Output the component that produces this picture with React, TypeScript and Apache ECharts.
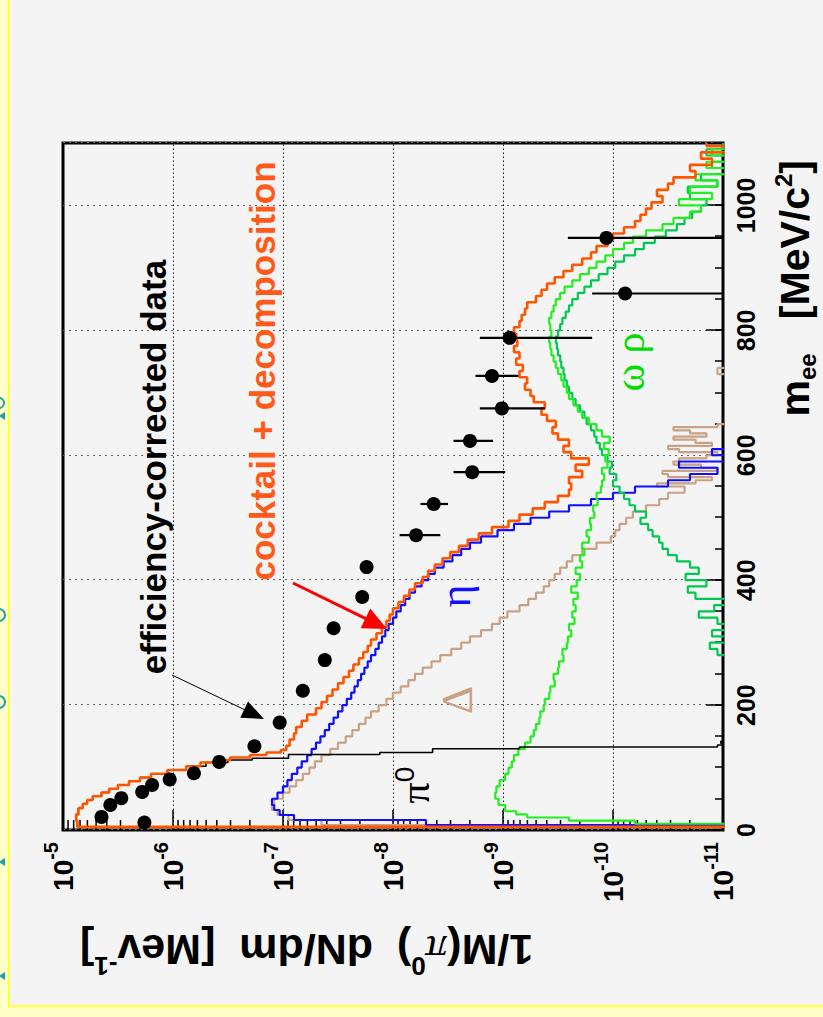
import React, { useEffect, useRef } from 'react';
import * as echarts from 'echarts';

// ---------- data (m_ee in MeV/c^2, value = log10 of 1/M(pi0) dN/dm [MeV^-1]) ----------
// -14 marks an empty bin (below the axis range)
const M_TICK_LABELS = [0, 200, 400, 600, 800, 1000];
const LOG_TICK_EXP = [-11, -10, -9, -8, -7, -6, -5];

const TOTAL = [
  [0, -14], [5, -5.13], [15, -5.12], [25, -5.14], [35, -5.18], [42, -5.22], [48, -5.27], [54, -5.35],
  [60, -5.42], [66, -5.5], [72, -5.6], [78, -5.7], [84, -5.8], [90, -5.95], [96, -6.12], [102, -6.25],
  [108, -6.4], [112, -6.52], [116, -6.7], [120, -6.85], [124, -6.98], [128, -7.03], [135, -7.06], [145, -7.1],
  [155, -7.12], [165, -7.17], [175, -7.22], [185, -7.3], [195, -7.35], [205, -7.4], [215, -7.45], [225, -7.5],
  [235, -7.55], [245, -7.6], [255, -7.64], [265, -7.69], [275, -7.73], [285, -7.77], [295, -7.8], [305, -7.85],
  [315, -7.9], [325, -7.94], [335, -7.97], [345, -8.0], [355, -8.05], [365, -8.1], [375, -8.15], [385, -8.2],
  [395, -8.27], [405, -8.32], [415, -8.38], [425, -8.45], [435, -8.52], [445, -8.6], [455, -8.68], [465, -8.78],
  [475, -8.9], [485, -9.05], [495, -9.15], [505, -9.27], [515, -9.38], [525, -9.5], [535, -9.6], [545, -9.62],
  [555, -9.6], [565, -9.72], [575, -9.66], [585, -9.78], [595, -9.62], [605, -9.55], [615, -9.6], [625, -9.5],
  [635, -9.45], [645, -9.48], [655, -9.4], [665, -9.35], [675, -9.38], [685, -9.28], [695, -9.25], [705, -9.2],
  [715, -9.22], [725, -9.15], [735, -9.18], [745, -9.12], [755, -9.15], [765, -9.1], [775, -9.13], [785, -9.12],
  [795, -9.1], [805, -9.15], [815, -9.17], [825, -9.2], [835, -9.22], [845, -9.3], [855, -9.35], [865, -9.4],
  [875, -9.47], [885, -9.55], [895, -9.63], [905, -9.72], [915, -9.8], [925, -9.85], [935, -9.95], [945, -10.0],
  [955, -10.1], [965, -10.2], [975, -10.25], [985, -10.3], [995, -10.35], [1005, -10.45], [1015, -10.4], [1025, -10.5],
  [1035, -10.55], [1045, -10.75], [1055, -10.7], [1065, -10.9], [1075, -10.8], [1085, -11.1], [1095, -10.85], [1100, -10.85],
];

const PI0 = [
  [0, -14], [5, -5.13], [15, -5.12], [25, -5.14], [35, -5.18], [42, -5.22], [48, -5.27], [54, -5.35],
  [60, -5.42], [66, -5.5], [72, -5.6], [78, -5.7], [84, -5.8], [90, -5.95], [96, -6.12], [102, -6.3],
  [108, -6.5], [112, -6.72], [115, -7.05], [121, -7.88], [124, -8.36], [130, -9.15], [133, -10.95], [136, -11.3],
  [139, -10.98], [142, -11.5], [145, -14],
];

const ETA = [
  [0, -14], [8, -8.3], [16, -7.1], [24, -6.97], [32, -6.92], [40, -6.9], [50, -6.95], [60, -7.0], [70, -7.04],
  [80, -7.08], [90, -7.13], [100, -7.17], [110, -7.22], [120, -7.26], [130, -7.3], [140, -7.34], [150, -7.38],
  [160, -7.42], [170, -7.46], [180, -7.5], [190, -7.54], [200, -7.58], [210, -7.62], [220, -7.65], [230, -7.68],
  [240, -7.71], [250, -7.74], [260, -7.77], [270, -7.8], [280, -7.84], [290, -7.87], [300, -7.9], [310, -7.93],
  [320, -7.96], [330, -8.0], [340, -8.03], [350, -8.07], [360, -8.11], [370, -8.15], [380, -8.2], [390, -8.26],
  [400, -8.32], [410, -8.38], [420, -8.46], [430, -8.54], [440, -8.62], [450, -8.7], [460, -8.8], [470, -8.95],
  [480, -9.1], [490, -9.25], [500, -9.42], [510, -9.6], [520, -9.8], [530, -10.0], [540, -10.2], [550, -10.5],
  [560, -10.7], [570, -10.95], [580, -10.6], [590, -11.3], [600, -10.9], [610, -14],
];

const DELTA = [
  [0, -14], [8, -7.35], [16, -7.05], [24, -6.95], [32, -6.9], [40, -6.92], [50, -7.0], [60, -7.06], [70, -7.12],
  [80, -7.18], [90, -7.24], [100, -7.29], [110, -7.35], [120, -7.43], [130, -7.5], [140, -7.57], [150, -7.63],
  [160, -7.69], [170, -7.75], [180, -7.8], [190, -7.87], [200, -7.94], [210, -8.0], [220, -8.07], [230, -8.14],
  [240, -8.2], [250, -8.27], [260, -8.35], [270, -8.43], [280, -8.53], [290, -8.62], [300, -8.7], [310, -8.8],
  [320, -8.9], [330, -8.97], [340, -9.04], [350, -9.15], [360, -9.23], [370, -9.3], [380, -9.37], [390, -9.42],
  [400, -9.47], [410, -9.52], [420, -9.58], [430, -9.63], [440, -9.72], [450, -9.85], [460, -9.98], [470, -10.02],
  [480, -10.06], [490, -10.12], [500, -10.18], [510, -10.3], [520, -10.42], [530, -10.5], [540, -10.65], [550, -10.4],
  [555, -10.75], [560, -10.9], [565, -10.5], [570, -10.45], [575, -10.95], [580, -10.8], [585, -10.55], [590, -10.6],
  [595, -10.85], [600, -10.95], [605, -10.6], [610, -10.5], [615, -10.9], [620, -10.75], [625, -10.55], [630, -10.85],
  [635, -10.7], [640, -10.55], [645, -10.95], [650, -11.2], [660, -14], [730, -10.95], [740, -14],
];

const OMEGA = [
  [0, -14], [10, -10.2], [15, -9.6], [20, -9.22], [25, -9.12], [30, -9.02], [40, -8.96], [50, -8.93], [60, -8.94],
  [70, -8.97], [80, -9.02], [90, -9.05], [100, -9.08], [110, -9.1], [120, -9.14], [130, -9.2], [140, -9.25],
  [150, -9.28], [160, -9.3], [170, -9.33], [180, -9.34], [190, -9.37], [200, -9.38], [210, -9.42], [220, -9.43],
  [230, -9.47], [240, -9.46], [250, -9.5], [260, -9.51], [270, -9.55], [280, -9.54], [290, -9.58], [300, -9.59],
  [310, -9.62], [320, -9.6], [330, -9.65], [340, -9.63], [350, -9.66], [360, -9.64], [370, -9.68], [380, -9.62],
  [390, -9.67], [400, -9.7], [410, -9.66], [420, -9.72], [430, -9.7], [440, -9.74], [450, -9.72], [460, -9.78],
  [470, -9.76], [480, -9.8], [490, -9.79], [500, -9.83], [510, -9.82], [520, -9.86], [530, -9.85], [540, -9.89],
  [550, -9.9], [560, -9.92], [570, -9.9], [580, -9.95], [590, -9.93], [600, -9.96], [610, -9.92], [620, -9.97],
  [630, -9.9], [640, -9.85], [650, -9.78], [660, -9.72], [670, -9.68], [680, -9.64], [690, -9.6], [700, -9.58],
  [710, -9.55], [720, -9.53], [730, -9.5], [740, -9.48], [750, -9.46], [760, -9.44], [770, -9.43], [780, -9.42],
  [790, -9.44], [800, -9.43], [810, -9.42], [820, -9.44], [830, -9.46], [840, -9.48], [850, -9.52], [860, -9.56],
  [870, -9.63], [880, -9.7], [890, -9.78], [900, -9.85], [910, -9.93], [920, -10.0], [930, -10.1], [940, -10.18],
  [950, -10.3], [960, -10.45], [970, -10.55], [980, -10.7], [990, -10.8], [1000, -10.6], [1010, -10.9], [1020, -10.7],
  [1030, -10.95], [1040, -10.75], [1050, -11.2], [1060, -10.85], [1070, -11.3], [1080, -10.9], [1090, -11.2], [1100, -11.2],
];

const RHO = [
  [270, -14], [280, -10.95], [290, -10.88], [300, -11.2], [310, -10.9], [320, -11.3], [330, -10.95], [340, -10.78],
  [350, -10.92], [360, -11.1], [370, -10.75], [380, -10.68], [390, -10.85], [400, -10.66], [410, -10.78], [420, -10.7],
  [430, -10.58], [440, -10.5], [450, -10.45], [460, -10.42], [470, -10.36], [480, -10.32], [490, -10.25], [500, -10.3],
  [510, -10.2], [520, -10.15], [530, -10.1], [540, -10.06], [550, -10.0], [560, -10.03], [570, -9.97], [580, -9.99],
  [590, -9.95], [600, -9.9], [610, -9.88], [620, -9.85], [630, -9.83], [640, -9.8], [650, -9.76], [660, -9.74],
  [670, -9.7], [680, -9.66], [690, -9.63], [700, -9.6], [710, -9.58], [720, -9.56], [730, -9.55], [740, -9.53],
  [750, -9.52], [760, -9.5], [770, -9.49], [780, -9.48], [790, -9.5], [800, -9.52], [810, -9.54], [820, -9.57],
  [830, -9.6], [840, -9.63], [850, -9.68], [860, -9.74], [870, -9.8], [880, -9.87], [890, -9.95], [900, -10.02],
  [910, -10.1], [920, -10.2], [930, -10.28], [940, -10.38], [950, -10.48], [960, -10.58], [970, -10.65], [980, -10.72],
  [990, -10.8], [1000, -10.85], [1010, -10.7], [1020, -10.68], [1030, -10.95], [1040, -10.8], [1050, -11.1], [1060, -10.9],
  [1070, -11.2], [1080, -10.85], [1090, -11.0], [1100, -11.0],
];

// efficiency-corrected data points [m, log10 value]
const DATA = [
  [12, -5.74], [21, -5.35], [40, -5.43], [51, -5.53], [61, -5.72], [72, -5.81], [81, -5.97], [91, -6.19],
  [109, -6.42], [134, -6.74], [172, -6.97], [223, -7.18], [272, -7.38], [323, -7.46], [373, -7.72], [421, -7.76],
  [472, -8.21], [522, -8.37], [573, -8.72], [623, -8.7], [675, -8.99], [727, -8.9], [788, -9.06], [859, -10.11], [948, -9.94],
];
// error bars [m, log10 upper, log10 lower]
const DATA_ERR = [
  [472, -8.06, -8.43], [522, -8.25, -8.5], [573, -8.55, -9.02], [623, -8.55, -8.91], [675, -8.79, -9.38],
  [727, -8.75, -9.14], [788, -8.79, -9.81], [859, -9.81, -11], [948, -9.59, -11],
];

// ---------- layout (drawn unrotated, then the whole chart is turned 90deg) ----------
const CW = 1017;
const CH = 823;
const FONT = '"Liberation Sans", Arial, Helvetica, sans-serif';
const SERIF = '"Liberation Serif", "DejaVu Serif", serif';
const TEAL = '#1f9ea6';

const pow = (e: number) => Math.pow(10, e);
const toXY = (arr: number[][]) => arr.map(([m, e]) => [m, pow(e)]);

const LOG_MINOR: number[][] = [];
for (let e = -11; e < -5; e++) for (let k = 2; k <= 9; k++) LOG_MINOR.push([0, k * pow(e)]);

function lineSeries(name: string, data: number[][], color: string, width: number, z: number) {
  return {
    type: 'line', name, data: toXY(data), step: 'end', symbol: 'none', showSymbol: false,
    lineStyle: { color, width }, itemStyle: { color }, z, clip: true, silent: true,
  };
}

function arrow(x1: number, y1: number, x2: number, y2: number, len: number, hw: number, color: string, lw: number) {
  const dx = x2 - x1, dy = y2 - y1;
  const L = Math.hypot(dx, dy);
  const ux = dx / L, uy = dy / L;
  const bx = x2 - ux * len, by = y2 - uy * len;
  return [
    { type: 'line', shape: { x1, y1, x2: bx + ux * 2, y2: by + uy * 2 }, style: { stroke: color, lineWidth: lw }, z: 20 },
    {
      type: 'polygon',
      shape: { points: [[x2, y2], [bx - uy * hw, by + ux * hw], [bx + uy * hw, by - ux * hw]] },
      style: { fill: color }, z: 20,
    },
  ];
}

// fragments of off-page slide text peeking in at the page edge (drawn as shapes)
function edgeTri(x: number) {
  return { type: 'polygon', z: 30, shape: { points: [[x, -1], [x - 4, 5], [x + 4, 5]] }, style: { fill: TEAL } };
}
function edgeArc(x: number, r: number) {
  return { type: 'arc', z: 30, shape: { cx: x, cy: -1, r, startAngle: 0, endAngle: Math.PI }, style: { stroke: TEAL, lineWidth: 2, fill: 'none' } };
}

function buildOption() {
  return {
    animation: false,
    backgroundColor: 'transparent',
    grid: { left: 187, top: 63, width: 687, height: 660, show: true, borderColor: '#000', borderWidth: 3, backgroundColor: 'transparent' },
    xAxis: [
      {
        type: 'value', min: 0, max: 1100, interval: 200, position: 'bottom',
        axisLine: { show: false },
        axisTick: { show: true, inside: true, length: 17, lineStyle: { color: '#000', width: 1.5 } },
        axisLabel: {
          show: true, margin: 10, color: '#000', fontSize: 25, fontWeight: 'bold', fontFamily: FONT,
          showMaxLabel: false, showMinLabel: true,
          formatter: (v: number) => (M_TICK_LABELS.includes(v) ? String(v) : ''),
        },
        splitLine: { show: true, lineStyle: { color: '#666', width: 1, type: [2, 4] } },
      },
      {
        type: 'value', min: 0, max: 1100, interval: 50, position: 'bottom',
        axisLine: { show: false },
        axisTick: { show: true, inside: true, length: 8, lineStyle: { color: '#000', width: 1.5 } },
        axisLabel: { show: false }, splitLine: { show: false },
      },
    ],
    yAxis: {
      type: 'log', logBase: 10, min: 1e-11, max: 1e-5, splitNumber: 6,
      axisLine: { show: false },
      axisTick: { show: true, inside: true, length: 20, lineStyle: { color: '#000', width: 1.5 } },
      axisLabel: {
        show: true, margin: 12, showMinLabel: true, showMaxLabel: true,
        formatter: (v: number) => {
          const e = Math.round(Math.log10(v));
          return LOG_TICK_EXP.includes(e) ? `{b|10}{s|${e}}` : '';
        },
        rich: {
          b: { fontSize: 28, fontWeight: 'bold', fontFamily: FONT, color: '#000', lineHeight: 44, verticalAlign: 'middle' },
          s: { fontSize: 20, fontWeight: 'bold', fontFamily: FONT, color: '#000', lineHeight: 18, verticalAlign: 'top' },
        },
      },
      splitLine: { show: true, lineStyle: { color: '#000', width: 1, type: [1.5, 2.5] } },
    },
    series: [
      {
        type: 'custom', name: 'log minor ticks', data: LOG_MINOR, silent: true, z: 3,
        encode: { x: 0, y: 1 },
        renderItem: (_p: any, api: any) => {
          const pt = api.coord([0, api.value(1)]);
          return { type: 'line', shape: { x1: pt[0], y1: pt[1], x2: pt[0] + 10, y2: pt[1] }, style: { stroke: '#000', lineWidth: 1.5 } };
        },
      },
      lineSeries('Δ', DELTA, '#c9a184', 2.2, 4),
      lineSeries('η', ETA, '#1010ff', 2.2, 5),
      lineSeries('ρ', RHO, '#00c850', 2.2, 5),
      lineSeries('ω', OMEGA, '#22ee22', 2.2, 6),
      lineSeries('π0', PI0, '#000000', 1.6, 6),
      lineSeries('cocktail + decomposition', TOTAL, '#ff5500', 2.6, 7),
      {
        type: 'custom', name: 'data errors', silent: true, z: 9, clip: true,
        data: DATA_ERR.map(([m, hi, lo]) => [m, pow(hi), pow(lo)]),
        encode: { x: 0, y: [1, 2] },
        renderItem: (_p: any, api: any) => {
          const a = api.coord([api.value(0), api.value(1)]);
          const b = api.coord([api.value(0), api.value(2)]);
          return { type: 'line', shape: { x1: a[0], y1: a[1], x2: b[0], y2: b[1] }, style: { stroke: '#000', lineWidth: 2.2 } };
        },
      },
      {
        type: 'scatter', name: 'efficiency-corrected data', data: toXY(DATA), symbol: 'circle', symbolSize: 14,
        itemStyle: { color: '#000', opacity: 1 }, z: 10, silent: true,
      },
    ],
    graphic: [
      {
        type: 'text', x: 550, y: 153, z: 20,
        style: { text: 'efficiency-corrected data', fontSize: 35, fontWeight: 'bold', fontFamily: FONT, fill: '#000', align: 'center', verticalAlign: 'middle', textAlign: 'center', textVerticalAlign: 'middle' },
      },
      {
        type: 'text', x: 646, y: 262, z: 20,
        style: { text: 'cocktail + decomposition', fontSize: 35, fontWeight: 'bold', fontFamily: FONT, fill: '#ff5a1a', align: 'center', verticalAlign: 'middle', textAlign: 'center', textVerticalAlign: 'middle' },
      },
      {
        type: 'text', x: 421, y: 455, z: 20,
        style: { text: 'η', fontSize: 44, fontFamily: SERIF, fill: '#1010ff', align: 'center', verticalAlign: 'middle', textAlign: 'center', textVerticalAlign: 'middle' },
      },
      {
        type: 'text', x: 317, y: 457, z: 20,
        style: { text: 'Δ', fontSize: 44, fontFamily: SERIF, fill: '#c9a184', align: 'center', verticalAlign: 'middle', textAlign: 'center', textVerticalAlign: 'middle' },
      },
      {
        type: 'text', x: 232, y: 415, z: 20,
        style: {
          text: '{p|π}{s|0}', align: 'center', verticalAlign: 'middle', textAlign: 'center', textVerticalAlign: 'middle',
          rich: {
            p: { fontSize: 42, fontFamily: SERIF, fill: '#000', color: '#000', lineHeight: 50, verticalAlign: 'middle' },
            s: { fontSize: 28, fontFamily: FONT, fill: '#000', color: '#000', lineHeight: 26, verticalAlign: 'top' },
          },
        },
      },
      {
        type: 'text', x: 655, y: 630, z: 20,
        style: { text: 'ω ρ', fontSize: 42, fontFamily: SERIF, fill: '#00dd00', align: 'center', verticalAlign: 'middle', textAlign: 'center', textVerticalAlign: 'middle' },
      },
      ...arrow(342, 172, 298, 264, 22, 9, '#000', 1),
      ...arrow(434, 293, 388, 387, 24, 11, '#ff0000', 3),
      {
        type: 'text', x: 857, y: 795, z: 20,
        style: {
          text: '{a|m}{sub|ee}{a|   [MeV/c}{sup|2}{a|]}', align: 'right', verticalAlign: 'middle', textAlign: 'right', textVerticalAlign: 'middle',
          rich: {
            a: { fontSize: 41, fontWeight: 'bold', fontFamily: FONT, fill: '#000', color: '#000', lineHeight: 48, verticalAlign: 'middle' },
            sub: { fontSize: 24, fontWeight: 'bold', fontFamily: FONT, fill: '#000', color: '#000', lineHeight: 22, verticalAlign: 'bottom' },
            sup: { fontSize: 24, fontWeight: 'bold', fontFamily: FONT, fill: '#000', color: '#000', lineHeight: 22, verticalAlign: 'top' },
          },
        },
      },
      {
        type: 'text', x: 67, y: 80, rotation: Math.PI / 2, z: 20,
        style: {
          text: '{a|1/M(}{g|π}{sup|0}{a|)  dN/dm  [Mev}{sup|-1}{a|]}', align: 'right', verticalAlign: 'middle', textAlign: 'right', textVerticalAlign: 'middle',
          rich: {
            a: { fontSize: 43, fontWeight: 'bold', fontFamily: FONT, fill: '#000', color: '#000', lineHeight: 58, verticalAlign: 'middle' },
            g: { fontSize: 43, fontStyle: 'italic', fontFamily: SERIF, fill: '#000', color: '#000', lineHeight: 58, verticalAlign: 'middle' },
            sup: { fontSize: 26, fontWeight: 'bold', fontFamily: FONT, fill: '#000', color: '#000', lineHeight: 24, verticalAlign: 'top' },
          },
        },
      },
      edgeArc(614, 5),
      edgeTri(601),
      edgeArc(402, 6),
      edgeArc(315, 6),
      edgeTri(155),
      edgeTri(41),
    ],
  };
}

export default function App() {
  const ref = useRef<HTMLDivElement>(null);
  useEffect(() => {
    if (!ref.current) return;
    const chart = echarts.init(ref.current, null, { renderer: 'svg', width: CW, height: CH });
    chart.setOption(buildOption() as any);
    return () => chart.dispose();
  }, []);
  return (
    <div style={{ position: 'fixed', left: 0, top: 0, width: 823, height: 1017, overflow: 'hidden', background: '#ffffc8' }}>
      <div
        style={{
          position: 'absolute', left: 8, top: 0, width: 815, height: 1007, boxSizing: 'border-box',
          background: '#f4f4f4', borderLeft: '2px solid #ffff3a', borderBottom: '2px solid #ffff3a',
        }}
      />
      <div
        ref={ref}
        style={{
          position: 'absolute', left: 0, top: 0, width: CW, height: CH,
          transformOrigin: '0 0', transform: `translateY(${CW}px) rotate(-90deg)`,
        }}
      />
    </div>
  );
}
